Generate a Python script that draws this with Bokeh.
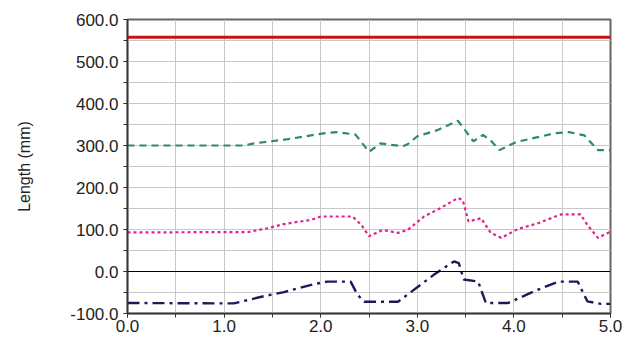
from bokeh.plotting import figure
from bokeh.models import FixedTicker, NumeralTickFormatter, Span, Range1d
from bokeh.embed import file_html
from bokeh.resources import INLINE

# ---- data ----
limit_value = 558

green_x = [0.0, 1.2, 1.31, 1.66, 2.03, 2.17, 2.36, 2.5, 2.62, 2.85, 2.9, 3.0, 3.2, 3.42, 3.5, 3.58, 3.68, 3.76, 3.85, 4.02, 4.21, 4.42, 4.57, 4.73, 4.87, 5.0]
green_y = [300, 300, 305, 315, 329, 332, 326, 285, 305, 298, 303, 322, 336, 359, 335, 310, 325, 312, 289, 308, 318, 329, 332, 324, 289, 289]

pink_x = [0.0, 1.25, 1.45, 1.62, 1.90, 2.0, 2.33, 2.42, 2.5, 2.64, 2.8, 2.9, 3.07, 3.24, 3.42, 3.47, 3.53, 3.66, 3.76, 3.87, 4.04, 4.25, 4.49, 4.69, 4.76, 4.87, 5.0]
pink_y = [93, 94, 103, 113, 123, 131, 131, 111, 84, 99, 92, 99, 131, 151, 175, 170, 119, 127, 92, 80, 101, 115, 136, 136, 111, 80, 95]

navy_x = [0.0, 1.1, 1.41, 1.62, 1.93, 2.07, 2.31, 2.38, 2.45, 2.8, 2.91, 3.17, 3.38, 3.43, 3.48, 3.63, 3.71, 3.94, 4.21, 4.46, 4.66, 4.76, 4.9, 5.0]
navy_y = [-75, -76, -59, -49, -30, -24, -24, -55, -72, -72, -53, -8, 24, 20, -19, -24, -75, -75, -47, -24, -24, -71, -77, -77]

x_ticks = [0, 1, 2, 3, 4, 5]
x_minor = [0, 0.5, 1, 1.5, 2, 2.5, 3, 3.5, 4, 4.5, 5]
y_ticks = [-100, 0, 100, 200, 300, 400, 500, 600]
y_minor = [-100, -50, 0, 50, 100, 150, 200, 250, 300, 350, 400, 450, 500, 550, 600]

FONT = "Liberation Sans"

p = figure(width=625, height=336, output_backend="svg", toolbar_location=None,
           x_range=Range1d(0, 5), y_range=Range1d(-100, 600),
           min_border_left=127, min_border_top=19, min_border_right=15, min_border_bottom=23)
p.background_fill_color = "white"
p.border_fill_color = "white"
p.outline_line_color = "#666666"
p.outline_line_width = 2

# axes
p.xaxis.ticker = FixedTicker(ticks=x_ticks, minor_ticks=x_minor)
p.yaxis.ticker = FixedTicker(ticks=y_ticks, minor_ticks=y_minor)
p.xaxis.formatter = NumeralTickFormatter(format="0.0")
p.yaxis.formatter = NumeralTickFormatter(format="0.0")
for ax in (p.xaxis, p.yaxis):
    ax.major_label_text_font = FONT
    ax.major_label_text_font_size = "17px"
    ax.major_label_text_color = "#222222"
    ax.axis_line_color = "#333333"
    ax.axis_line_width = 1.5
    ax.major_tick_line_color = "#333333"
    ax.minor_tick_line_color = "#333333"
    ax.major_tick_in = 0
    ax.major_tick_out = 4
    ax.minor_tick_in = 0
    ax.minor_tick_out = 4
p.xaxis.major_label_standoff = 2
p.yaxis.major_label_standoff = 5
p.yaxis.axis_label = "Length (mm)"
p.yaxis.axis_label_text_font = FONT
p.yaxis.axis_label_text_font_size = "16px"
p.yaxis.axis_label_text_font_style = "normal"
p.yaxis.axis_label_text_color = "#222222"
p.yaxis.axis_label_standoff = 34

# grid
p.xgrid.ticker = FixedTicker(ticks=x_minor)
p.ygrid.ticker = FixedTicker(ticks=y_minor)
for g in (p.xgrid, p.ygrid):
    g.grid_line_color = "#c8c8c8"
    g.grid_line_width = 1

# zero line
p.add_layout(Span(location=0, dimension="width", line_color="black", line_width=1.2))

# series
p.line([0, 5], [limit_value, limit_value], line_color="#cc1111", line_width=3)
p.line(green_x, green_y, line_color="#2e8a6e", line_width=2.2, line_dash="7 5")
p.line(pink_x, pink_y, line_color="#e3208c", line_width=2.2, line_dash="3 3")
p.line(navy_x, navy_y, line_color="#1b1b5c", line_width=2.4, line_dash="12 5 3 5")

open("out.html", "w").write(file_html(p, INLINE))
